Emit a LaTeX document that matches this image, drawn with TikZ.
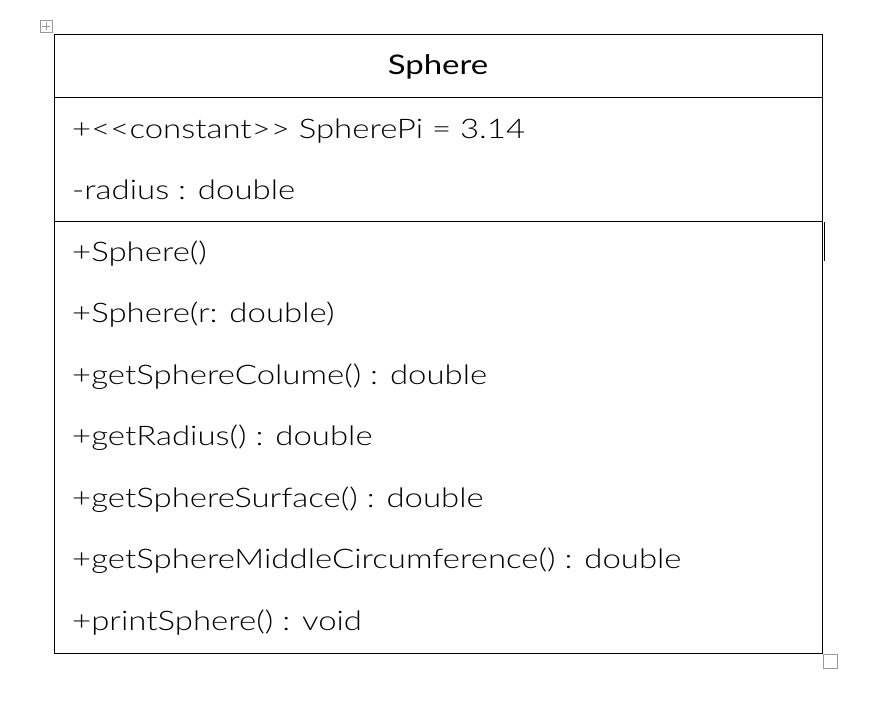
\documentclass[tikz,border=0pt]{standalone}
\usepackage{fontspec}
\setmainfont{Lato Light}[FakeStretch=1.22]
\newfontfamily\titlefont{Lato}[FakeStretch=1.22]
\begin{document}
\begin{tikzpicture}[x=1pt,y=-1pt,
            member/.style={anchor=base west, inner sep=0pt, font=\fontsize{27}{32}\selectfont},
            classname/.style={anchor=base, inner sep=0pt, font=\titlefont\fontsize{27}{32}\selectfont},
            frame/.style={draw=black, line width=1pt},
            handle/.style={draw=black!40, line width=0.8pt},
        ]
            \useasboundingbox (0,0) rectangle (874,712);

            %Box
            \draw[frame] (54,34) rectangle (822,653);
            \draw[frame] (54,97) -- (822,97);
            \draw[frame] (54,221) -- (822,221);
            \draw[line width=1.3pt] (824.5,222) -- (824.5,261);

            %Word handles
            \draw[handle, fill=white] (40,20) rectangle (52,32);
            \draw[handle, line width=0.6pt] (42,26) -- (50,26) (46,22) -- (46,30);
            \draw[handle, fill=white] (823.5,654.5) rectangle (837.5,668.5);

            %Nodes
            \node[classname] (name) at (438,74) {Sphere};

            \node[member] (a1) at (72,138) {+{<}{<}constant{>}{>} SpherePi = 3.14};
            \node[member] (a2) at (72,199) {-radius : double};

            \node[member] (m1) at (72,261) {+Sphere()};
            \node[member] (m2) at (72,322) {+Sphere(r: double)};
            \node[member] (m3) at (72,384) {+getSphereColume() : double};
            \node[member] (m4) at (72,445) {+getRadius() : double};
            \node[member] (m5) at (72,507) {+getSphereSurface() : double};
            \node[member] (m6) at (72,568) {+getSphereMiddleCircumference() : double};
            \node[member] (m7) at (72,630) {+printSphere() : void};
        \end{tikzpicture}
\end{document}
